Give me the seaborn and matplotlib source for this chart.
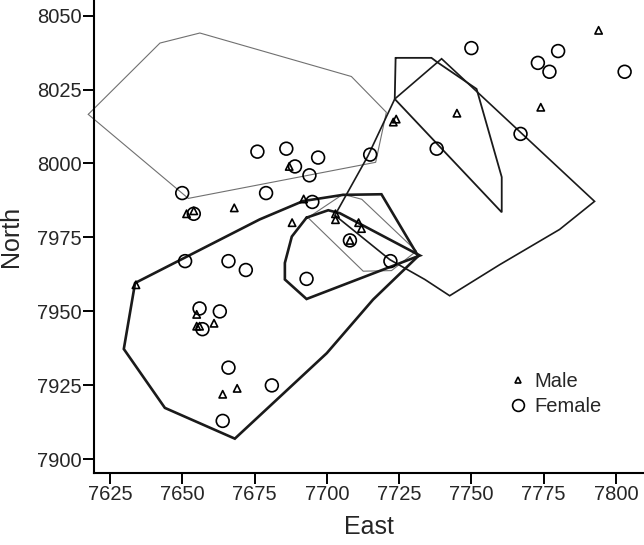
import numpy as np
import pandas as pd
import seaborn as sns
import matplotlib
matplotlib.use("Agg")
import matplotlib.pyplot as plt
from matplotlib.lines import Line2D

# point locations (East, North)
male_east = [7794, 7745, 7774, 7723, 7724, 7651.5, 7654, 7668, 7634, 7655, 7655, 7656,
             7661, 7664, 7669, 7687, 7692, 7688, 7703, 7703, 7711, 7712, 7708]
male_north = [8045, 8017, 8019, 8014, 8015, 7983, 7984, 7985, 7959, 7949, 7945, 7945,
              7946, 7922, 7924, 7999, 7988, 7980, 7983, 7981, 7980, 7978, 7974]

female_east = [7750, 7780, 7773, 7777, 7803, 7767, 7738, 7676, 7686, 7697, 7715, 7650,
               7654, 7651, 7666, 7672, 7656, 7663, 7657, 7666, 7664, 7681, 7689, 7694,
               7679, 7695, 7708, 7722, 7693]
female_north = [8039, 8038, 8034, 8031, 8031, 8010, 8005, 8004, 8005, 8002, 8003, 7990,
                7983, 7967, 7967, 7964, 7951, 7950, 7944, 7931, 7913, 7925, 7999, 7996,
                7990, 7987, 7974, 7967, 7961]

# home range outlines
range_a_east = [7617.5, 7642.3, 7656.1, 7708.5, 7720.6, 7716.9, 7652.1]
range_a_north = [8016.6, 8040.7, 8044.1, 8029.4, 8017.3, 8000.4, 7988.2]

range_b_east = [7633.7, 7629.8, 7644.0, 7668.2, 7700.0, 7716.0, 7731.6, 7718.9, 7705.6, 7691.8, 7676.8]
range_b_north = [7959.6, 7937.3, 7917.4, 7907.0, 7935.9, 7954.0, 7968.7, 7989.6, 7989.4, 7987.3, 7981.1]

range_c_east = [7723.5, 7739.7, 7792.6, 7780.5, 7759.8, 7742.5, 7733.9, 7721.8, 7702.8, 7714.2]
range_c_north = [8021.8, 8035.4, 7987.2, 7977.7, 7965.8, 7955.3, 7960.8, 7967.5, 7982.5, 8002.5]

range_d_east = [7723.8, 7736.2, 7738.1, 7751.8, 7760.5, 7760.5, 7723.5]
range_d_north = [8035.7, 8035.7, 8034.3, 8025.2, 7995.4, 7983.5, 8021.8]

range_e_east = [7693.0, 7700.5, 7704.5, 7732.2, 7693.0, 7685.5, 7685.5, 7687.9]
range_e_north = [7981.7, 7984.2, 7983.2, 7968.9, 7954.2, 7960.8, 7966.4, 7975.3]

range_f_east = [7693.5, 7705.6, 7712.1, 7731.0, 7722.4, 7712.6]
range_f_north = [7981.7, 7989.6, 7987.9, 7970.4, 7963.8, 7963.6]

sns.set_style("ticks")
plt.rcParams["font.family"] = ["Liberation Sans", "DejaVu Sans"]

fig = plt.figure(figsize=(6.44, 5.45), dpi=100)
ax = fig.add_axes([0.146, 0.1327, 0.854, 0.867])

def outline(east, north, color, lw):
    e = list(east) + [east[0]]
    n = list(north) + [north[0]]
    ax.plot(e, n, color=color, lw=lw, solid_joinstyle="miter", clip_on=False, zorder=2)

outline(range_a_east, range_a_north, "#707070", 0.8)
outline(range_f_east, range_f_north, "#707070", 0.8)
outline(range_c_east, range_c_north, "#1a1a1a", 1.2)
outline(range_d_east, range_d_north, "#1a1a1a", 1.3)
outline(range_b_east, range_b_north, "#1a1a1a", 1.9)
outline(range_e_east, range_e_north, "#1a1a1a", 1.9)

males = pd.DataFrame({"East": male_east, "North": male_north})
females = pd.DataFrame({"East": female_east, "North": female_north})

sns.scatterplot(data=males, x="East", y="North", marker="^", s=28,
                facecolor="none", edgecolor="black", linewidth=1.2, ax=ax, zorder=3)
sns.scatterplot(data=females, x="East", y="North", marker="o", s=85,
                facecolor="none", edgecolor="black", linewidth=1.2, ax=ax, zorder=3)

ax.set_xlim(7619.5, 7809.7)
ax.set_ylim(7895.5, 8055.2)
ax.set_xticks([7625, 7650, 7675, 7700, 7725, 7750, 7775, 7800])
ax.set_yticks([7900, 7925, 7950, 7975, 8000, 8025, 8050])
ax.tick_params(labelsize=14.5, length=8, width=1.4, pad=1, color="black")
ax.set_xlabel("East", fontsize=18, labelpad=8)
ax.set_ylabel("North", fontsize=18, labelpad=10)
for side in ["left", "bottom"]:
    ax.spines[side].set_linewidth(1.5)
    ax.spines[side].set_color("black")
sns.despine(ax=ax)

handles = [
    Line2D([], [], ls="none", marker="^", markersize=5, mfc="none", mec="black", mew=1.2),
    Line2D([], [], ls="none", marker="o", markersize=8.5, mfc="none", mec="black", mew=1.2),
]
ax.legend(handles, ["Male", "Female"], frameon=False, fontsize=14.5,
          loc="upper left", bbox_to_anchor=(0.735, 0.235),
          handlelength=1.0, handletextpad=0.3, labelspacing=0.3, borderpad=0)

fig.savefig("out.png", dpi=100)
